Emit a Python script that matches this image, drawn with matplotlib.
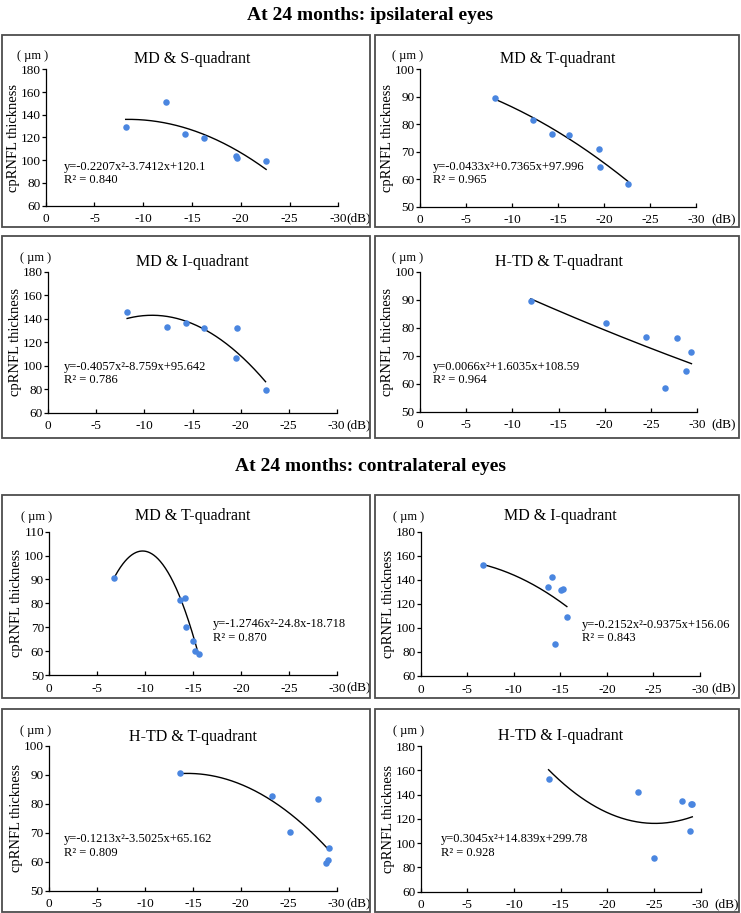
import matplotlib.pyplot as plt
import numpy as np
from matplotlib.patches import Rectangle

plt.rcParams["font.family"] = ["Liberation Serif", "DejaVu Serif"]
plt.rcParams["axes.unicode_minus"] = False

# ---- data ----
# ipsilateral eyes
ipsi_md = [-8.2, -12.3, -14.3, -16.2, -19.5, -19.6, -22.6]
ipsi_md_s = [129.0, 151.3, 123.4, 119.9, 103.7, 101.7, 99.0]
ipsi_md_t = [89.6, 81.6, 76.6, 76.0, 71.0, 64.3, 58.3]
ipsi_md_i = [145.5, 132.9, 136.6, 131.8, 106.8, 131.8, 79.0]
ipsi_htd = [-12.0, -20.1, -24.5, -27.8, -29.4, -28.8, -26.5]
ipsi_htd_t = [89.6, 81.8, 76.7, 76.2, 71.2, 64.4, 58.5]

# contralateral eyes
contra_md_a = [-6.7, -13.6, -14.1, -14.3, -15.0, -15.2, -15.6]
contra_md_t = [90.5, 81.4, 82.4, 70.0, 64.2, 59.9, 58.9]
contra_md_b = [-6.7, -13.7, -14.1, -14.4, -15.1, -15.3, -15.7]
contra_md_i = [152.3, 134.3, 142.0, 86.9, 131.8, 132.3, 109.3]
contra_htd_a = [-13.7, -23.3, -25.1, -28.0, -29.2, -29.1, -28.9]
contra_htd_t = [90.5, 82.5, 70.2, 81.5, 64.6, 60.5, 59.5]
contra_htd_b = [-13.7, -23.3, -25.0, -28.0, -29.1, -29.0, -28.9]
contra_htd_i = [152.5, 142.1, 87.5, 134.4, 132.2, 132.6, 109.7]

titles = ["MD & S-quadrant", "MD & T-quadrant", "MD & I-quadrant", "H-TD & T-quadrant",
          "MD & T-quadrant", "MD & I-quadrant", "H-TD & T-quadrant", "H-TD & I-quadrant"]
equations = ["y=-0.2207x\u00b2-3.7412x+120.1", "y=-0.0433x\u00b2+0.7365x+97.996",
             "y=-0.4057x\u00b2-8.759x+95.642", "y=0.0066x\u00b2+1.6035x+108.59",
             "y=-1.2746x\u00b2-24.8x-18.718", "y=-0.2152x\u00b2-0.9375x+156.06",
             "y=-0.1213x\u00b2-3.5025x+65.162", "y=0.3045x\u00b2+14.839x+299.78"]
r2_labels = ["0.840", "0.965", "0.786", "0.964", "0.870", "0.843", "0.809", "0.928"]
# trend curve coefficients (a, b, c) as drawn
curves = [(-0.2207, -3.7412, 120.1), (-0.0433, 0.7365, 97.996),
          (-0.4057, -8.759, 95.642), (0.0066, 1.6035, 108.59),
          (-1.2746, -24.8, -18.718), (-0.2152, -0.9375, 156.06),
          (-0.1213, -3.5025, 65.162), (0.34, 17.07, 330.5)]
y_ranges = [(60, 180, 20), (50, 100, 10), (60, 180, 20), (50, 100, 10),
            (50, 110, 10), (60, 180, 20), (50, 100, 10), (60, 180, 20)]
x_ticks = [0, -5, -10, -15, -20, -25, -30]

xs_all = [ipsi_md, ipsi_md, ipsi_md, ipsi_htd, contra_md_a, contra_md_b, contra_htd_a, contra_htd_b]
ys_all = [ipsi_md_s, ipsi_md_t, ipsi_md_i, ipsi_htd_t, contra_md_t, contra_md_i, contra_htd_t, contra_htd_i]

# ---- layout (pixels) ----
W, H = 741, 913
axes_px = [(45.7, 338.3, 69.3, 205.7), (420, 696, 69.3, 206.7),
           (48.3, 336.7, 271.7, 412.7), (420, 697, 271.7, 411.7),
           (49.3, 337, 531.7, 675), (420.7, 700, 531.7, 676),
           (49, 336.7, 745.7, 890.7), (420.7, 700.7, 746, 891.7)]
boxes_px = [(2, 370, 35, 227), (375, 739, 35, 227),
            (2, 370, 236, 438), (375, 739, 236, 438),
            (2, 370, 495, 698), (375, 739, 495, 698),
            (2, 370, 709, 912), (375, 739, 709, 912)]
title_y = [1.073, 1.073, 1.071, 1.071, 1.11, 1.109, 1.062, 1.069]
eq_pos = [(0.063, 0.286, 0.188), (0.046, 0.29, 0.194), (0.054, 0.326, 0.232),
          (0.048, 0.321, 0.226), (0.569, 0.353, 0.256), (0.578, 0.353, 0.261),
          (0.052, 0.354, 0.257), (0.071, 0.359, 0.263)]
db_x = [1.029, 1.057, 1.035, 1.052, 1.033, 1.042, 1.035, 1.05]

fig = plt.figure(figsize=(W / 100, H / 100), dpi=100)

fig.text(0.5, 1 - 16 / H, "At 24 months: ipsilateral eyes", ha="center", va="center",
         fontsize=14, fontweight="bold")
fig.text(0.5, 1 - 466 / H, "At 24 months: contralateral eyes", ha="center", va="center",
         fontsize=14, fontweight="bold")

for x0, x1, y0, y1 in boxes_px:
    fig.add_artist(Rectangle((x0 / W, 1 - y1 / H), (x1 - x0) / W, (y1 - y0) / H,
                             transform=fig.transFigure, fill=False, ec="#4d4d4d", lw=1.3))

for i in range(8):
    l, r, t, b = axes_px[i]
    ax = fig.add_axes([l / W, 1 - b / H, (r - l) / W, (b - t) / H])
    xs, ys = xs_all[i], ys_all[i]
    ax.scatter(xs, ys, s=22, color="#4A86E0", lw=0, zorder=3)
    xx = np.linspace(min(xs), max(xs), 200)
    ax.plot(xx, np.polyval(curves[i], xx), color="black", lw=1.0, zorder=2)

    lo, hi, step = y_ranges[i]
    ax.set_xlim(0, -30)
    ax.set_ylim(lo, hi)
    ax.set_xticks(x_ticks)
    ax.set_yticks(np.arange(lo, hi + 1, step))
    for s in ["top", "right"]:
        ax.spines[s].set_visible(False)
    ax.spines["left"].set_linewidth(0.9)
    ax.spines["bottom"].set_linewidth(0.9)
    ax.tick_params(axis="x", direction="in", length=3, width=0.9, pad=5.5, labelsize=9.5)
    ax.tick_params(axis="y", direction="out", length=3, width=0.9, pad=0.8, labelsize=9.5)

    ax.set_ylabel("cpRNFL thickness", fontsize=10.5)
    ax.yaxis.set_label_coords(-26 / (r - l), 0.5)
    ax.text(0.5, title_y[i], titles[i], transform=ax.transAxes, ha="center",
            va="center", fontsize=11.5)
    ax.text(-0.045, 1.10, "( \u00b5m )", transform=ax.transAxes, ha="center",
            va="center", fontsize=9)
    ax.text(db_x[i], -12.5 / (b - t), "(dB)", transform=ax.transAxes, ha="left",
            va="center", fontsize=9.5)
    ex, ey, ry = eq_pos[i]
    ax.text(ex, ey, equations[i], transform=ax.transAxes, ha="left", va="center", fontsize=9)
    ax.text(ex, ry, "R\u00b2 = " + r2_labels[i], transform=ax.transAxes, ha="left",
            va="center", fontsize=9)

fig.savefig("out.png", dpi=100)
